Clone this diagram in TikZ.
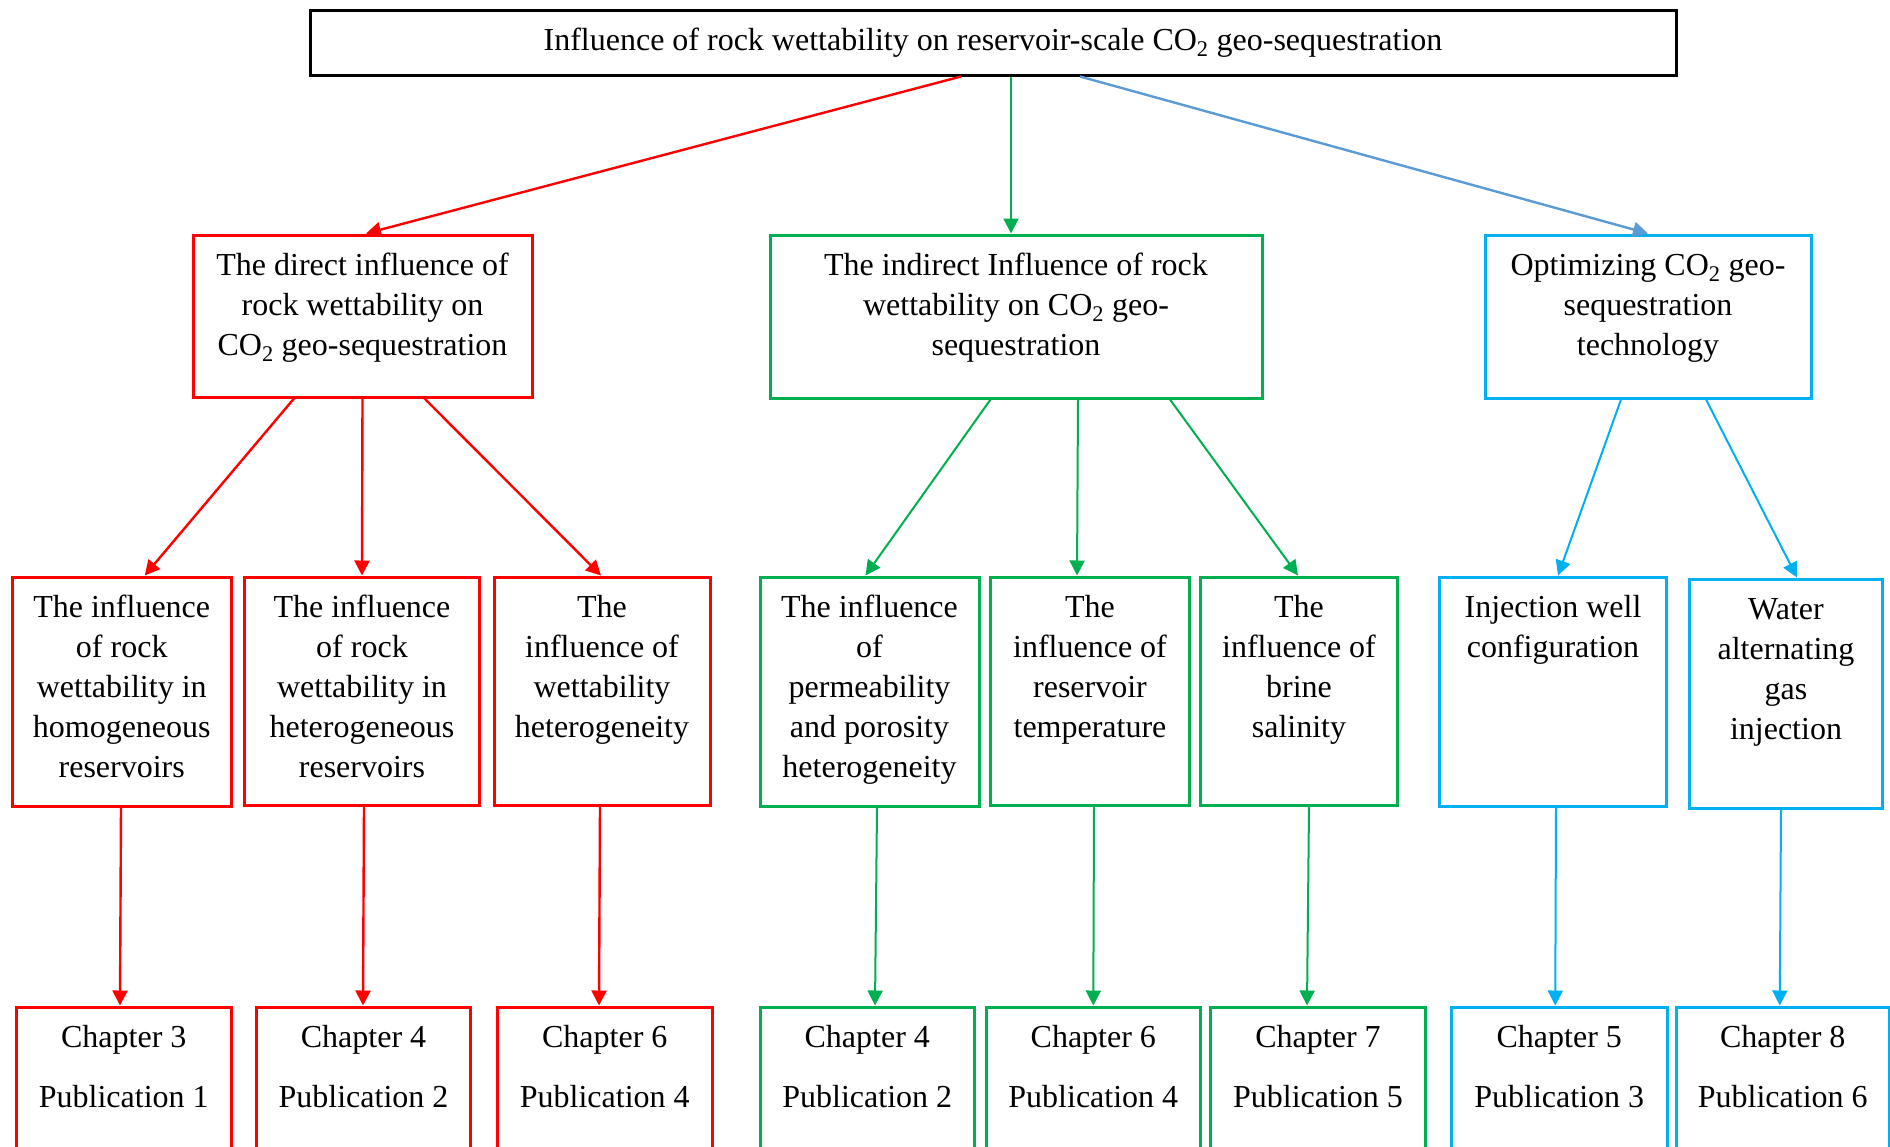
\documentclass[tikz,border=0pt]{standalone}
\usepackage{fontspec}
\setmainfont{Liberation Serif}
\usetikzlibrary{arrows.meta,calc}
\newcommand\bxt[3]{\parbox[c][#2][t]{#1}{\centering\rule{0pt}{40pt}#3\par}}
\newcommand\COtwo{CO\textsubscript{2}}
\definecolor{cred}{RGB}{255,0,0}
\definecolor{cgreen}{RGB}{0,176,80}
\definecolor{ccyan}{RGB}{0,176,240}
\definecolor{cblue}{RGB}{91,155,213}
\begin{document}
\begin{tikzpicture}[x=1pt,y=-1pt,
  font=\fontsize{32}{40}\selectfont,
  box/.style={draw, line width=3pt, inner sep=0pt, fill=white},
  rbox/.style={box, draw=cred},
  gbox/.style={box, draw=cgreen},
  cbox/.style={box, draw=ccyan},
  arr/.style={-{Triangle[length=15pt,width=15pt]}, line width=2.4pt},
  rarr/.style={arr, draw=cred, fill=cred},
  garr/.style={arr, draw=cgreen, fill=cgreen, line width=2pt},
  carr/.style={arr, draw=ccyan, fill=ccyan, line width=2pt},
  barr/.style={arr, draw=cblue, fill=cblue}]
\fill[white] (0,0) rectangle (1890,1146);
\useasboundingbox (0,0) rectangle (1890,1146);

% top
\node[box, draw=black, minimum width=1366pt, minimum height=65pt] (T) at (993,42.5)
  {Influence of rock wettability on reservoir-scale \COtwo{} geo-sequestration};

% level 2
\node[rbox] (D) at (362.5,316) {\bxt{339pt}{162pt}{The direct influence of\\rock wettability on\\\COtwo{} geo-sequestration}};
\node[gbox] (I) at (1016,316.5) {\bxt{492pt}{163pt}{The indirect Influence of rock\\wettability on \COtwo{} geo-\\sequestration}};
\node[cbox] (O) at (1648,316.5) {\bxt{326pt}{163pt}{Optimizing \COtwo{} geo-\\sequestration\\technology}};

% level 3
\node[rbox] (R1) at (121.75,691.5) {\bxt{219.5pt}{229pt}{The influence\\of rock\\wettability in\\homogeneous\\reservoirs}};
\node[rbox] (R2) at (362,691) {\bxt{235pt}{228pt}{The influence\\of rock\\wettability in\\heterogeneous\\reservoirs}};
\node[rbox] (R3) at (602,691) {\bxt{216pt}{228pt}{The\\influence of\\wettability\\heterogeneity}};
\node[gbox] (G1) at (869.5,691.5) {\bxt{219pt}{229pt}{The influence\\of\\permeability\\and porosity\\heterogeneity}};
\node[gbox] (G2) at (1090,691) {\bxt{198.5pt}{228pt}{The\\influence of\\reservoir\\temperature}};
\node[gbox] (G3) at (1299,691) {\bxt{196.5pt}{228pt}{The\\influence of\\brine\\salinity}};
\node[cbox] (B1) at (1553,691.5) {\bxt{226.5pt}{229pt}{Injection well\\configuration}};
\node[cbox] (B2) at (1786,693.5) {\bxt{193.5pt}{229pt}{Water\\alternating\\gas\\injection}};

% level 4
\node[rbox] (C1) at (123.75,1097) {\bxt{215.5pt}{180pt}{Chapter 3\\[20pt]Publication 1}};
\node[rbox] (C2) at (363.5,1097) {\bxt{214pt}{180pt}{Chapter 4\\[20pt]Publication 2}};
\node[rbox] (C3) at (604.75,1097) {\bxt{214.5pt}{180pt}{Chapter 6\\[20pt]Publication 4}};
\node[gbox] (C4) at (867.25,1097) {\bxt{214.5pt}{180pt}{Chapter 4\\[20pt]Publication 2}};
\node[gbox] (C5) at (1093.3,1097) {\bxt{214.6pt}{180pt}{Chapter 6\\[20pt]Publication 4}};
\node[gbox] (C6) at (1318,1097) {\bxt{215pt}{180pt}{Chapter 7\\[20pt]Publication 5}};
\node[cbox] (C7) at (1559.25,1097) {\bxt{215.5pt}{180pt}{Chapter 5\\[20pt]Publication 3}};
\node[cbox] (C8) at (1782.75,1097) {\bxt{212.5pt}{180pt}{Chapter 8\\[20pt]Publication 6}};

% top -> level 2
\draw[rarr] ($(T.south)+(-32,0)$) -- ($(D.north)+(3.5,0)$);
\draw[garr] ($(T.south)+(18,0)$) -- ($(I.north)+(-5,0)$);
\draw[barr] ($(T.south)+(87,0)$) -- (O.north);

% level 2 -> level 3
\draw[rarr] ($(D.south)+(-68.5,0)$) -- ($(R1.north)+(23,0)$);
\draw[rarr] (D.south) -- (R2.north);
\draw[rarr] ($(D.south)+(62,0)$) -- ($(R3.north)+(-1,0)$);
\draw[garr] ($(I.south)+(-25.5,0)$) -- ($(G1.north)+(-4,0)$);
\draw[garr] ($(I.south)+(62,0)$) -- ($(G2.north)+(-13,0)$);
\draw[garr] ($(I.south)+(154,0)$) -- ($(G3.north)+(-1,0)$);
\draw[carr] ($(O.south)+(-27,0)$) -- ($(B1.north)+(5,0)$);
\draw[carr] ($(O.south)+(58,0)$) -- ($(B2.north)+(11,0)$);

% level 3 -> level 4
\draw[rarr] ($(R1.south)+(-0.75,0)$) -- ($(C1.north)+(-3.75,0)$);
\draw[rarr] ($(R2.south)+(2,0)$) -- ($(C2.north)+(-0.5,0)$);
\draw[rarr] ($(R3.south)+(-2,0)$) -- ($(C3.north)+(-5.75,0)$);
\draw[garr] ($(G1.south)+(7.5,0)$) -- ($(C4.north)+(7.75,0)$);
\draw[garr] ($(G2.south)+(4,0)$) -- (C5.north);
\draw[garr] ($(G3.south)+(10,0)$) -- ($(C6.north)+(-11,0)$);
\draw[carr] ($(B1.south)+(3,0)$) -- ($(C7.north)+(-4,0)$);
\draw[carr] ($(B2.south)+(-5,0)$) -- ($(C8.north)+(-3,0)$);
\end{tikzpicture}
\end{document}
